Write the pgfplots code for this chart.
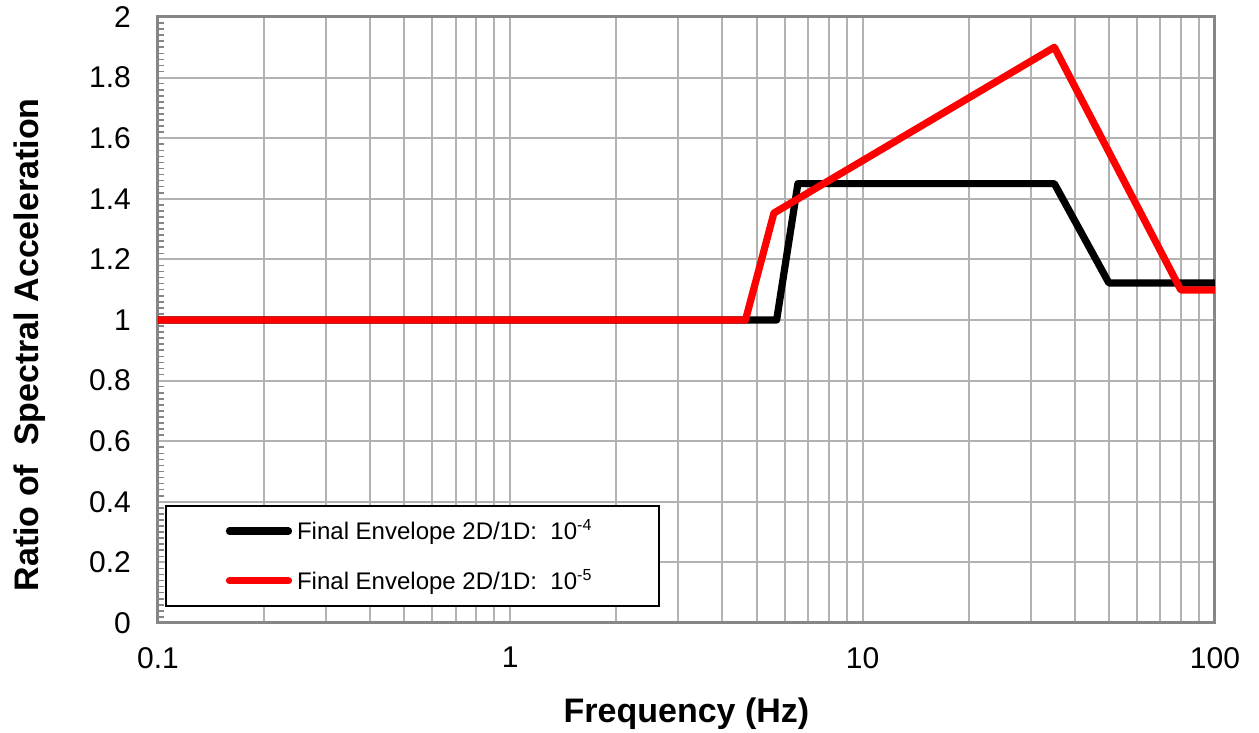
\documentclass[border=0pt]{standalone}
\usepackage{pgfplots}
\pgfplotsset{compat=1.18}
\usepackage{fontspec}
\setmainfont{Liberation Sans}
\definecolor{framegray}{RGB}{134,134,134}
\definecolor{gridgray}{RGB}{178,178,178}
\newcommand{\legtext}[1]{\makebox[149pt][l]{Final Envelope 2D/1D:~ 10\textsuperscript{#1}}}
\begin{document}
\begin{tikzpicture}
\begin{axis}[
  xmode=log,
  scale only axis,
  width=528.5pt, height=303pt,
  xmin=0.1, xmax=100,
  ymin=0, ymax=2,
  ytick={0,0.2,...,2.01},
  yticklabels={0,0.2,0.4,0.6,0.8,1,1.2,1.4,1.6,1.8,2},
  xtick={0.1,1,10,100},
  xticklabels={0.1,1,10,100},
  minor y tick num=9,
  ytick pos=left, xtick pos=bottom,
  axis line style={framegray, line width=1.5pt},
  tick style={framegray, line width=0.8pt},
  major tick length=0pt,
  minor tick length=2.8pt,
  xminorgrids, xmajorgrids, ymajorgrids,
  every minor x tick/.style={draw=none},
  grid style={gridgray, line width=1pt},
  major grid style={gridgray, line width=1pt},
  minor grid style={gridgray, line width=1pt},
  ticklabel style={font=\fontsize{15}{17}\selectfont},
  /pgf/number format/assume math mode=true,
  yticklabel style={xshift=-10pt},
  xticklabel style={yshift=-8.5pt},
  xlabel={\textbf{Frequency (Hz)}},
  ylabel={\textbf{Ratio of~ Spectral Acceleration}},
  label style={font=\fontsize{17}{19}\selectfont},
  xlabel style={at={(axis description cs:0.5,-0.15)}, anchor=center},
  ylabel style={at={(axis description cs:-0.121,0.459)}, anchor=center},
  legend style={
    at={(0.0066,0.0264)}, anchor=south west,
    draw=black, line width=0.9pt,
    font=\fontsize{12}{14}\selectfont,
    inner xsep=30pt, inner ysep=5pt,
    row sep=9.5pt, column sep=0.5pt,
  },
  legend cell align=left,
  legend image code/.code={\draw[#1, line cap=round] (0pt,0pt) -- (29.5pt,0pt);},
]
\addplot[black, line width=3.6pt, line join=round] coordinates {
  (0.1,1) (5.7,1) (6.55,1.45) (35,1.45) (50,1.122) (100,1.122)
};
\addlegendentry{\legtext{-4}}
\addplot[red, line width=3.6pt, line join=round] coordinates {
  (0.1,1) (4.65,1) (5.6,1.353) (35,1.9) (80,1.099) (100,1.099)
};
\addlegendentry{\legtext{-5}}
\end{axis}
\pgfresetboundingbox
\path ([shift={(-79pt,-55pt)}]current axis.south west) rectangle ([shift={(22pt,8.5pt)}]current axis.north east);
\end{tikzpicture}
\end{document}
